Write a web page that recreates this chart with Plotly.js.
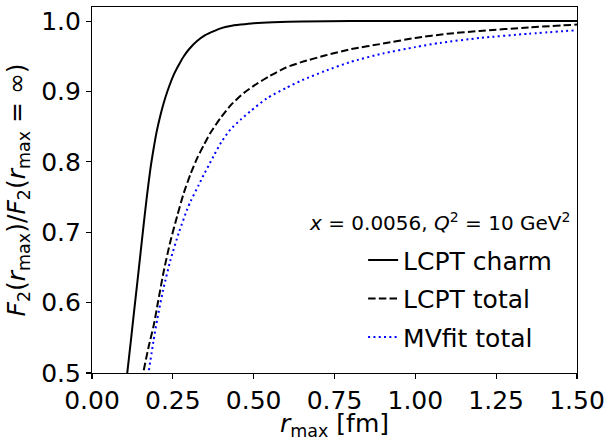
<!DOCTYPE html>
<html>
<head>
<meta charset="utf-8">
<script src="https://cdn.plot.ly/plotly-3.0.1.min.js"></script>
<style>
html,body{margin:0;padding:0;background:#fff;}
#plot{width:609px;height:439px;}
</style>
</head>
<body>
<div id="plot"></div>
<script>
// LCPT charm (solid)
const charmR = [0.109, 0.120, 0.130, 0.140, 0.150, 0.160, 0.170, 0.180, 0.191, 0.200, 0.212, 0.222, 0.233, 0.253, 0.270, 0.284, 0.300, 0.325, 0.350, 0.377, 0.400, 0.428, 0.460, 0.500, 0.560, 0.650, 0.800, 1.00, 1.25, 1.50];
const charmF = [0.500, 0.545, 0.587, 0.628, 0.670, 0.712, 0.752, 0.788, 0.820, 0.843, 0.867, 0.884, 0.900, 0.924, 0.939, 0.950, 0.960, 0.9716, 0.980, 0.9858, 0.990, 0.993, 0.995, 0.997, 0.9985, 0.9995, 1.0, 1.0, 1.0, 1.0];

// LCPT total (dashed)
const lcptR = [0.160, 0.175, 0.191, 0.205, 0.222, 0.243, 0.264, 0.284, 0.305, 0.325, 0.346, 0.366, 0.397, 0.430, 0.470, 0.51, 0.55, 0.60, 0.65, 0.72, 0.80, 0.90, 1.00, 1.10, 1.20, 1.35, 1.50];
const lcptF = [0.504, 0.537, 0.568, 0.603, 0.645, 0.688, 0.724, 0.756, 0.783, 0.805, 0.824, 0.841, 0.862, 0.881, 0.898, 0.911, 0.922, 0.934, 0.942, 0.951, 0.960, 0.968, 0.976, 0.982, 0.986, 0.991, 0.995];

// MVfit total (dotted)
const mvR = [0.176, 0.190, 0.202, 0.222, 0.243, 0.269, 0.294, 0.305, 0.330, 0.346, 0.361, 0.377, 0.400, 0.428, 0.460, 0.490, 0.54, 0.60, 0.65, 0.72, 0.80, 0.90, 1.00, 1.076, 1.20, 1.35, 1.50];
const mvF = [0.504, 0.545, 0.577, 0.622, 0.661, 0.700, 0.732, 0.744, 0.767, 0.782, 0.795, 0.809, 0.828, 0.846, 0.860, 0.872, 0.890, 0.905, 0.916, 0.929, 0.942, 0.954, 0.963, 0.969, 0.976, 0.982, 0.987];

const xTicks = [0, 0.25, 0.5, 0.75, 1.0, 1.25, 1.5];
const xTickText = ["0.00", "0.25", "0.50", "0.75", "1.00", "1.25", "1.50"];
const yTicks = [0.5, 0.6, 0.7, 0.8, 0.9, 1.0];
const yTickText = ["0.5", "0.6", "0.7", "0.8", "0.9", "1.0"];

const FONT = "DejaVu Sans, sans-serif";

const traces = [
  {x: charmR, y: charmF, mode: "lines", name: "LCPT charm", legendgroup: "a",
   line: {color: "#000000", width: 2, shape: "spline", smoothing: 0.6}},
  {x: lcptR, y: lcptF, mode: "lines", name: "LCPT total", legendgroup: "b",
   line: {color: "#000000", width: 2, dash: "7.5px,3.2px", shape: "spline", smoothing: 0.6}},
  {x: mvR, y: mvF, mode: "lines", name: "MVfit total", legendgroup: "c",
   line: {color: "#0000ff", width: 2, dash: "2px,3.3px", shape: "spline", smoothing: 0.6}}
];

const layout = {
  width: 609, height: 439,
  margin: {l: 91.5, r: 31.5, t: 7, b: 65.5, pad: 0},
  paper_bgcolor: "#ffffff", plot_bgcolor: "#ffffff",
  font: {family: FONT, color: "#000000", size: 25},
  showlegend: true,
  legend: {
    x: 0.559, y: 0.203, xanchor: "left", yanchor: "middle",
    bgcolor: "rgba(0,0,0,0)", borderwidth: 0,
    font: {family: FONT, size: 25, color: "#000000"},
    tracegroupgap: 3
  },
  xaxis: {
    range: [0, 1.5], tickmode: "array", tickvals: xTicks, ticktext: xTickText,
    ticks: "outside", ticklen: 5, tickwidth: 1.1, tickcolor: "#000",
    showline: true, linecolor: "#000", linewidth: 1.1, mirror: true,
    showgrid: false, zeroline: false,
    tickfont: {family: FONT, size: 25, color: "#000"}
  },
  yaxis: {
    range: [0.5, 1.02], tickmode: "array", tickvals: yTicks, ticktext: yTickText,
    ticks: "outside", ticklen: 5, tickwidth: 1.1, tickcolor: "#000",
    showline: true, linecolor: "#000", linewidth: 1.1, mirror: true,
    showgrid: false, zeroline: false,
    tickfont: {family: FONT, size: 25, color: "#000"},
    title: {text: "<i>F</i><sub>2</sub>(<i>r</i><sub>max</sub>)/<i>F</i><sub>2</sub>(<i>r</i><sub>max</sub> = ∞)", font: {family: FONT, size: 25, color: "#000"}, standoff: 8}
  },
  annotations: [{
    xref: "paper", yref: "paper", x: 0.989, y: 0.413, xanchor: "right", yanchor: "middle",
    showarrow: false,
    text: "<i>x</i> = 0.0056, <i>Q</i><sup>2</sup> = 10 GeV<sup>2</sup>",
    font: {family: FONT, size: 20, color: "#000"}
  }, {
    xref: "paper", yref: "paper", x: 0.5, y: -0.19, xanchor: "center", yanchor: "bottom",
    showarrow: false,
    text: "<i>r</i><sub>max</sub> [fm]",
    font: {family: FONT, size: 25, color: "#000"}
  }]
};

Plotly.newPlot("plot", traces, layout, {staticPlot: true, displayModeBar: false});
</script>
</body>
</html>
